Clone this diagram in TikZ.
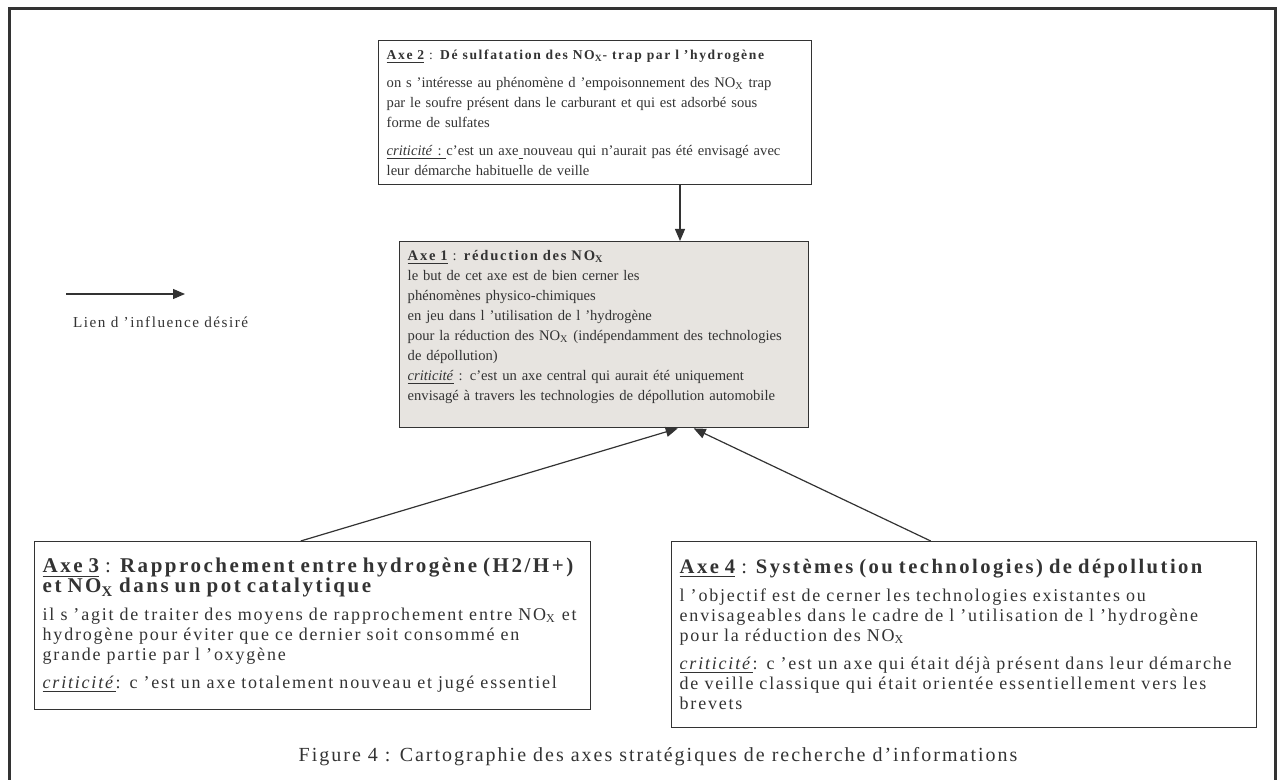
\documentclass[tikz,border=0pt]{standalone}
\usepackage{fontspec}
\setmainfont{Liberation Serif}[LetterSpace=10]
\usetikzlibrary{arrows.meta}

\definecolor{axegray}{RGB}{231,228,224}
\definecolor{ink}{RGB}{51,51,51}

\newcommand{\nox}{NO\textsubscript{X}}
% #1 taille, #2 numero, #3 titre
\newcommand{\titreaxe}[3]{{\fontsize{#1}{11}\selectfont\bfseries\addfontfeature{LetterSpace=12}\underline{Axe #2}\mdseries{} : \bfseries #3}}

\begin{document}
\begin{tikzpicture}[x=0.5pt,y=-0.5pt,
  axe/.style={draw=ink, line width=0.7pt, anchor=north west, align=left,
    inner xsep=4pt, inner ysep=3pt, text=ink, font=\fontsize{9}{10}\selectfont},
  petit/.style={font=\fontsize{7.3}{10}\selectfont\addfontfeature{LetterSpace=0}},
  lien/.style={draw=ink, line width=0.6pt, -{Triangle[length=6pt,width=5pt]}}]

  \useasboundingbox (0,0) rectangle (1277,780);
  % cadre
  \draw[ink, line width=1.5pt] (9,780) -- (9,9) -- (1275,9) -- (1275,780);

  \node[axe, petit, text width=208.5pt, minimum height=72pt] (axe2) at (378,40)
    {\titreaxe{6.8}{2}{Dé sulfatation des \nox- trap par l ’hydrogène}\\[4pt]
     on s ’intéresse au phénomène d ’empoisonnement des \nox{} trap\\
     par le soufre présent dans le carburant et qui est adsorbé sous\\
     forme de sulfates\\[4pt]
     \underline{\textit{criticité} :}\underline{\ }c’est un axe\underline{\ }nouveau qui n’aurait pas été envisagé avec\\
     leur démarche habituelle de veille};

  \node[axe, petit, fill=axegray, text width=196.5pt, text height=6.25pt, text depth=80.75pt] (axe1) at (399,241)
    {\titreaxe{7.3}{1}{réduction des \nox}\\
     le but de cet axe est de bien cerner les\\
     phénomènes physico-chimiques\\
     en jeu dans l ’utilisation de l ’hydrogène\\
     pour la réduction des \nox{} (indépendamment des technologies\\
     de dépollution)\\
     \underline{\textit{criticité}} : c’est un axe central qui aurait été uniquement\\
     envisagé à travers les technologies de dépollution automobile};

  \node[axe, text width=270pt, minimum height=84pt] (axe3) at (34,541)
    {{\baselineskip=12.5pt\titreaxe{10.5}{3}{Rapprochement entre hydrogène (H2/H+)\\ et \nox{} dans un pot catalytique}}\\[4pt]
     il s ’agit de traiter des moyens de rapprochement entre \nox{} et\\
     hydrogène pour éviter que ce dernier soit consommé en\\
     grande partie par l ’oxygène\\[4pt]
     \underline{\textit{criticité}}: c ’est un axe totalement nouveau et jugé essentiel};

  \node[axe, text width=284.5pt, minimum height=93pt] (axe4) at (671,541)
    {\titreaxe{10.3}{4}{Systèmes (ou technologies) de dépollution}\\[4pt]
     l ’objectif est de cerner les technologies existantes ou\\
     envisageables dans le cadre de l ’utilisation de l ’hydrogène\\
     pour la réduction des \nox\\[4pt]
     \underline{\textit{criticité}}: c ’est un axe qui était déjà présent dans leur démarche\\
     de veille classique qui était orientée essentiellement vers les\\
     brevets};

  % liens
  \coordinate (p) at (680,0);
  \draw[lien] (axe2.south -| p) -- (axe1.north -| p);
  \draw[lien] ([xshift=-6pt]axe3.north) -- ([xshift=36.75pt]axe1.south);
  \draw[lien] ([xshift=-16.75pt]axe4.north) -- ([xshift=44.75pt]axe1.south);

  % legende
  \coordinate (l0) at (66,294);
  \coordinate (l1) at (185,294);
  \draw[lien] (l0) -- (l1);
  \node[anchor=west, text=ink, font=\fontsize{7.6}{10}\selectfont] (legende) at (66,322) {Lien d ’influence désiré};

  \node[text=ink, font=\fontsize{10}{12}\selectfont] (titre) at (658,757)
    {Figure 4 : Cartographie des axes stratégiques de recherche d’informations};
\end{tikzpicture}
\end{document}
